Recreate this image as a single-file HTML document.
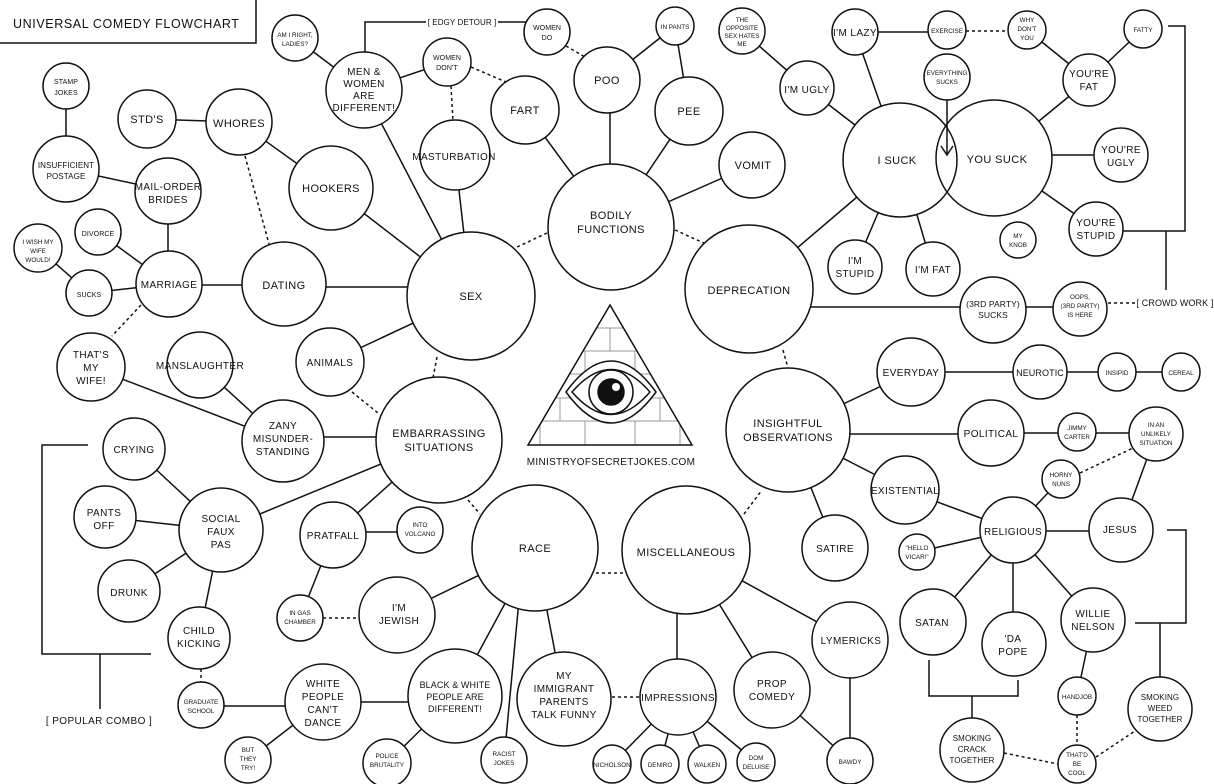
<!DOCTYPE html>
<html><head><meta charset="utf-8"><style>
html,body{margin:0;padding:0;background:#fff;}
svg{display:block;}
text{font-family:"Liberation Sans",sans-serif;fill:#111;text-anchor:middle;letter-spacing:0.4px;}
.b{font-size:11px;}
.m{font-size:10px;}
.s{font-size:7px;letter-spacing:0.1px;}
.x{font-size:6.3px;letter-spacing:0;}
line,path,polyline{stroke:#111;stroke-width:1.5;fill:none;}
.d{stroke-dasharray:3,3;}
circle{stroke:#111;stroke-width:1.5;fill:#fff;}
</style></head><body>
<svg width="1214" height="784" viewBox="0 0 1214 784" xmlns="http://www.w3.org/2000/svg">
<rect x="0" y="0" width="1214" height="784" fill="#fff"/>
<!-- title -->
<path d="M0,43 H256 V0"/>
<text x="13" y="28" style="font-size:12.5px;letter-spacing:0.6px;text-anchor:start">UNIVERSAL COMEDY FLOWCHART</text>

<!-- connectors -->
<g>
<line x1="295" y1="38" x2="364" y2="90"/>
<line x1="364" y1="90" x2="447" y2="62"/>
<line class="d" x1="451" y1="86" x2="453" y2="121"/>
<line class="d" x1="471" y1="67" x2="506" y2="82"/>
<line x1="364" y1="90" x2="471" y2="296"/>
<line x1="455" y1="155" x2="471" y2="296"/>
<line x1="331" y1="188" x2="471" y2="296"/>
<line x1="239" y1="122" x2="331" y2="188"/>
<line x1="147" y1="119" x2="239" y2="122"/>
<line class="d" x1="245" y1="156" x2="269" y2="244"/>
<line x1="66" y1="86" x2="66" y2="169"/>
<line x1="66" y1="169" x2="168" y2="191"/>
<line x1="168" y1="191" x2="168" y2="284"/>
<line x1="98" y1="232" x2="169" y2="284"/>
<line x1="38" y1="248" x2="89" y2="293"/>
<line x1="89" y1="293" x2="169" y2="284"/>
<line x1="169" y1="285" x2="284" y2="285"/>
<line x1="284" y1="287" x2="471" y2="287"/>
<line x1="330" y1="362" x2="471" y2="296"/>
<line class="d" x1="141" y1="305" x2="112" y2="336"/>
<line class="d" x1="437" y1="357" x2="433" y2="378"/>
<line class="d" x1="352" y1="392" x2="378" y2="413"/>
<line x1="200" y1="365" x2="283" y2="441"/>
<line x1="91" y1="367" x2="283" y2="441"/>
<line x1="283" y1="437" x2="439" y2="437"/>
<line x1="439" y1="440" x2="221" y2="530"/>
<line x1="439" y1="440" x2="333" y2="535"/>
<line x1="333" y1="532" x2="420" y2="532"/>
<line x1="333" y1="535" x2="300" y2="618"/>
<line class="d" x1="323" y1="618" x2="359" y2="618"/>
<line x1="134" y1="449" x2="221" y2="530"/>
<line x1="105" y1="517" x2="221" y2="530"/>
<line x1="129" y1="591" x2="221" y2="530"/>
<line x1="221" y1="530" x2="199" y2="638"/>
<line class="d" x1="201" y1="669" x2="201" y2="682"/>
<line x1="201" y1="706" x2="323" y2="706"/>
<line x1="323" y1="702" x2="248" y2="760"/>
<line x1="323" y1="702" x2="455" y2="702"/>
<line x1="455" y1="696" x2="387" y2="763"/>
<line class="d" x1="468" y1="500" x2="480" y2="514"/>
<line x1="535" y1="548" x2="397" y2="615"/>
<line x1="535" y1="548" x2="455" y2="696"/>
<line x1="519" y1="600" x2="504" y2="760"/>
<line x1="535" y1="548" x2="564" y2="699"/>
<line class="d" x1="596" y1="573" x2="626" y2="573"/>
<line class="d" x1="612" y1="697" x2="642" y2="697"/>
<line x1="677" y1="550" x2="677" y2="697"/>
<line x1="686" y1="550" x2="772" y2="690"/>
<line x1="686" y1="550" x2="850" y2="640"/>
<line x1="850" y1="640" x2="850" y2="761"/>
<line x1="772" y1="690" x2="850" y2="761"/>
<line x1="678" y1="697" x2="612" y2="764"/>
<line x1="678" y1="697" x2="660" y2="764"/>
<line x1="678" y1="697" x2="707" y2="764"/>
<line x1="678" y1="697" x2="756" y2="762"/>
<line class="d" x1="744" y1="514" x2="762" y2="490"/>
<line x1="788" y1="430" x2="835" y2="548"/>
<line x1="788" y1="430" x2="911" y2="372"/>
<line x1="788" y1="434" x2="991" y2="434"/>
<line x1="788" y1="430" x2="905" y2="490"/>
<line x1="911" y1="372" x2="1181" y2="372"/>
<line x1="991" y1="433" x2="1156" y2="433"/>
<line class="d" x1="1080" y1="473" x2="1133" y2="448"/>
<line x1="1156" y1="434" x2="1121" y2="530"/>
<line x1="905" y1="490" x2="1013" y2="530"/>
<line x1="917" y1="552" x2="1013" y2="530"/>
<line x1="1013" y1="531" x2="1121" y2="531"/>
<line x1="1013" y1="530" x2="1061" y2="479"/>
<line x1="1013" y1="530" x2="933" y2="622"/>
<line x1="1013" y1="530" x2="1013" y2="644"/>
<line x1="1013" y1="530" x2="1093" y2="620"/>
<line x1="1093" y1="620" x2="1077" y2="696"/>
<line class="d" x1="1077" y1="715" x2="1077" y2="745"/>
<line class="d" x1="1004" y1="753" x2="1058" y2="764"/>
<line class="d" x1="1096" y1="757" x2="1135" y2="731"/>
<polyline points="929,660 929,696 1018,696 1018,680"/>
<line x1="972" y1="696" x2="972" y2="720"/>
<polyline points="1167,530 1186,530 1186,623 1135,623"/>
<line x1="1160" y1="623" x2="1160" y2="678"/>
<!-- top center -->
<polyline points="365,56 365,22 426,22"/>
<text class="s" x="462" y="25" style="font-size:8px">[ EDGY DETOUR ]</text>
<line x1="498" y1="22" x2="530" y2="22"/>
<line class="d" x1="566" y1="46" x2="585" y2="57"/>
<line x1="611" y1="227" x2="525" y2="110"/>
<line x1="610" y1="227" x2="610" y2="80"/>
<line x1="611" y1="227" x2="689" y2="111"/>
<line x1="611" y1="227" x2="752" y2="165"/>
<line x1="607" y1="80" x2="675" y2="26"/>
<line x1="675" y1="26" x2="689" y2="111"/>
<line class="d" x1="547" y1="233" x2="515" y2="248"/>
<line class="d" x1="675" y1="230" x2="706" y2="244"/>
<line class="d" x1="783" y1="350" x2="788" y2="368"/>
<line x1="742" y1="31" x2="807" y2="88"/>
<line x1="807" y1="88" x2="855" y2="125"/>
<line x1="855" y1="32" x2="881" y2="106"/>
<line x1="855" y1="32" x2="947" y2="32"/>
<line class="d" x1="966" y1="31" x2="1008" y2="31"/>
<line x1="1027" y1="30" x2="1089" y2="80"/>
<line x1="1143" y1="29" x2="1089" y2="80"/>
<line x1="1039" y1="121" x2="1089" y2="80"/>
<line x1="1052" y1="155" x2="1121" y2="155"/>
<line x1="1042" y1="191" x2="1096" y2="229"/>
<line x1="857" y1="197" x2="749" y2="289"/>
<line x1="878" y1="213" x2="855" y2="267"/>
<line x1="917" y1="215" x2="933" y2="269"/>
<line x1="749" y1="307" x2="1080" y2="307"/>
<polyline points="1168,26 1185,26 1185,231 1123,231"/>
<line x1="1166" y1="231" x2="1166" y2="290"/>
<line class="d" x1="1108" y1="303" x2="1136" y2="303"/>
<text class="s" x="1175" y="306" style="font-size:9px">[ CROWD WORK ]</text>
<!-- popular combo -->
<polyline points="88,445 42,445 42,654 151,654"/>
<line x1="100" y1="654" x2="100" y2="709"/>
<text x="99" y="724" style="font-size:10px">[ POPULAR COMBO ]</text>
</g>

<!-- big circles -->
<circle cx="471" cy="296" r="64"/><text class="b" x="471" y="300">SEX</text>
<circle cx="611" cy="227" r="63"/><text class="b" x="611" y="219">BODILY</text><text class="b" x="611" y="233">FUNCTIONS</text>
<circle cx="749" cy="289" r="64"/><text class="b" x="749" y="294">DEPRECATION</text>
<circle cx="439" cy="440" r="63"/><text class="b" x="439" y="437">EMBARRASSING</text><text class="b" x="439" y="451">SITUATIONS</text>
<circle cx="535" cy="548" r="63"/><text class="b" x="535" y="552">RACE</text>
<circle cx="686" cy="550" r="64"/><text class="b" x="686" y="556">MISCELLANEOUS</text>
<circle cx="788" cy="430" r="62"/><text class="b" x="788" y="427">INSIGHTFUL</text><text class="b" x="788" y="441">OBSERVATIONS</text>
<circle cx="900" cy="160" r="57" style="fill:none"/><text class="b" x="897" y="164">I SUCK</text>
<circle cx="994" cy="158" r="58" style="fill:none"/><text class="b" x="997" y="163">YOU SUCK</text>
<circle cx="947" cy="77" r="23"/><text class="x" x="947" y="75">EVERYTHING</text><text class="x" x="947" y="84">SUCKS</text>
<line x1="947" y1="100" x2="947" y2="155"/><polyline points="941,146 947,155 953,146"/>

<!-- medium -->
<circle cx="364" cy="90" r="38"/><text class="m" x="364" y="75">MEN &amp;</text><text class="m" x="364" y="87">WOMEN</text><text class="m" x="364" y="99">ARE</text><text class="m" x="364" y="111">DIFFERENT!</text>
<circle cx="455" cy="155" r="35"/><text class="m" x="454" y="160">MASTURBATION</text>
<circle cx="525" cy="110" r="34"/><text class="b" x="525" y="114">FART</text>
<circle cx="607" cy="80" r="33"/><text class="b" x="607" y="84">POO</text>
<circle cx="689" cy="111" r="34"/><text class="b" x="689" y="115">PEE</text>
<circle cx="752" cy="165" r="33"/><text class="b" x="753" y="169">VOMIT</text>
<circle cx="807" cy="88" r="27"/><text class="m" x="807" y="93">I'M UGLY</text>
<circle cx="855" cy="32" r="23"/><text class="m" x="855" y="36">I'M LAZY</text>
<circle cx="855" cy="267" r="27"/><text class="m" x="855" y="264">I'M</text><text class="m" x="855" y="277">STUPID</text>
<circle cx="933" cy="269" r="27"/><text class="m" x="933" y="273">I'M FAT</text>
<circle cx="1089" cy="80" r="26"/><text class="m" x="1089" y="77">YOU'RE</text><text class="m" x="1089" y="90">FAT</text>
<circle cx="1121" cy="155" r="27"/><text class="m" x="1121" y="153">YOU'RE</text><text class="m" x="1121" y="166">UGLY</text>
<circle cx="1096" cy="229" r="27"/><text class="m" x="1096" y="226">YOU'RE</text><text class="m" x="1096" y="239">STUPID</text>
<circle cx="993" cy="310" r="33"/><text class="s" x="993" y="307" style="font-size:8.5px">(3RD PARTY)</text><text class="s" x="993" y="318" style="font-size:8.5px">SUCKS</text>
<circle cx="331" cy="188" r="42"/><text class="b" x="331" y="192">HOOKERS</text>
<circle cx="239" cy="122" r="33"/><text class="b" x="239" y="127">WHORES</text>
<circle cx="147" cy="119" r="29"/><text class="b" x="147" y="123">STD'S</text>
<circle cx="168" cy="191" r="33"/><text class="m" x="168" y="190">MAIL-ORDER</text><text class="m" x="168" y="203">BRIDES</text>
<circle cx="66" cy="169" r="33"/><text class="s" x="66" y="168" style="font-size:8px">INSUFFICIENT</text><text class="s" x="66" y="179" style="font-size:8px">POSTAGE</text>
<circle cx="169" cy="284" r="33"/><text class="m" x="169" y="288">MARRIAGE</text>
<circle cx="284" cy="284" r="42"/><text class="b" x="284" y="289">DATING</text>
<circle cx="91" cy="367" r="34"/><text class="m" x="91" y="358">THAT'S</text><text class="m" x="91" y="371">MY</text><text class="m" x="91" y="384">WIFE!</text>
<circle cx="200" cy="365" r="33"/><text class="m" x="200" y="369">MANSLAUGHTER</text>
<circle cx="330" cy="362" r="34"/><text class="m" x="330" y="366">ANIMALS</text>
<circle cx="283" cy="441" r="41"/><text class="m" x="283" y="429">ZANY</text><text class="m" x="283" y="442">MISUNDER-</text><text class="m" x="283" y="455">STANDING</text>
<circle cx="134" cy="449" r="31"/><text class="m" x="134" y="453">CRYING</text>
<circle cx="105" cy="517" r="31"/><text class="m" x="104" y="516">PANTS</text><text class="m" x="104" y="529">OFF</text>
<circle cx="221" cy="530" r="42"/><text class="m" x="221" y="522">SOCIAL</text><text class="m" x="221" y="535">FAUX</text><text class="m" x="221" y="548">PAS</text>
<circle cx="129" cy="591" r="31"/><text class="m" x="129" y="596">DRUNK</text>
<circle cx="199" cy="638" r="31"/><text class="m" x="199" y="634">CHILD</text><text class="m" x="199" y="647">KICKING</text>
<circle cx="323" cy="702" r="38"/><text class="m" x="323" y="687">WHITE</text><text class="m" x="323" y="700">PEOPLE</text><text class="m" x="323" y="713">CAN'T</text><text class="m" x="323" y="726">DANCE</text>
<circle cx="333" cy="535" r="33"/><text class="m" x="333" y="539">PRATFALL</text>
<circle cx="397" cy="615" r="38"/><text class="m" x="399" y="611">I'M</text><text class="m" x="399" y="624">JEWISH</text>
<circle cx="455" cy="696" r="47"/><text class="s" x="455" y="688" style="font-size:9px">BLACK &amp; WHITE</text><text class="s" x="455" y="700" style="font-size:9px">PEOPLE ARE</text><text class="s" x="455" y="712" style="font-size:9px">DIFFERENT!</text>
<circle cx="564" cy="699" r="47"/><text class="m" x="564" y="679">MY</text><text class="m" x="564" y="692">IMMIGRANT</text><text class="m" x="564" y="705">PARENTS</text><text class="m" x="564" y="718">TALK FUNNY</text>
<circle cx="678" cy="697" r="38"/><text class="m" x="678" y="701">IMPRESSIONS</text>
<circle cx="772" cy="690" r="38"/><text class="m" x="772" y="687">PROP</text><text class="m" x="772" y="700">COMEDY</text>
<circle cx="850" cy="640" r="38"/><text class="m" x="851" y="644">LYMERICKS</text>
<circle cx="835" cy="548" r="33"/><text class="m" x="835" y="552">SATIRE</text>
<circle cx="911" cy="372" r="34"/><text class="m" x="911" y="376">EVERYDAY</text>
<circle cx="1040" cy="372" r="27"/><text class="s" x="1040" y="376" style="font-size:9px">NEUROTIC</text>
<circle cx="991" cy="433" r="33"/><text class="m" x="991" y="437">POLITICAL</text>
<circle cx="905" cy="490" r="34"/><text class="m" x="905" y="494">EXISTENTIAL</text>
<circle cx="1013" cy="530" r="33"/><text class="m" x="1013" y="535">RELIGIOUS</text>
<circle cx="1121" cy="530" r="32"/><text class="m" x="1120" y="533">JESUS</text>
<circle cx="933" cy="622" r="33"/><text class="m" x="932" y="626">SATAN</text>
<circle cx="1014" cy="644" r="32"/><text class="m" x="1013" y="642">'DA</text><text class="m" x="1013" y="655">POPE</text>
<circle cx="1093" cy="620" r="32"/><text class="m" x="1093" y="617">WILLIE</text><text class="m" x="1093" y="630">NELSON</text>
<circle cx="1160" cy="709" r="32"/><text class="s" x="1160" y="700" style="font-size:8px">SMOKING</text><text class="s" x="1160" y="711" style="font-size:8px">WEED</text><text class="s" x="1160" y="722" style="font-size:8px">TOGETHER</text>
<circle cx="972" cy="750" r="32"/><text class="s" x="972" y="741" style="font-size:8px">SMOKING</text><text class="s" x="972" y="752" style="font-size:8px">CRACK</text><text class="s" x="972" y="763" style="font-size:8px">TOGETHER</text>

<!-- small -->
<circle cx="295" cy="38" r="23"/><text class="x" x="295" y="37">AM I RIGHT,</text><text class="x" x="295" y="46">LADIES?</text>
<circle cx="447" cy="62" r="24"/><text class="s" x="447" y="60">WOMEN</text><text class="s" x="447" y="70">DON'T</text>
<circle cx="547" cy="32" r="23"/><text class="s" x="547" y="30">WOMEN</text><text class="s" x="547" y="40">DO</text>
<circle cx="675" cy="26" r="19"/><text class="x" x="675" y="29">IN PANTS</text>
<circle cx="742" cy="31" r="23"/><text class="x" x="742" y="22">THE</text><text class="x" x="742" y="30">OPPOSITE</text><text class="x" x="742" y="38">SEX HATES</text><text class="x" x="742" y="46">ME</text>
<circle cx="947" cy="30" r="19"/><text class="x" x="947" y="33">EXERCISE</text>
<circle cx="1027" cy="30" r="19"/><text class="x" x="1027" y="22">WHY</text><text class="x" x="1027" y="31">DON'T</text><text class="x" x="1027" y="40">YOU</text>
<circle cx="1143" cy="29" r="19"/><text class="x" x="1143" y="32">FATTY</text>
<circle cx="1018" cy="240" r="18"/><text class="x" x="1018" y="238">MY</text><text class="x" x="1018" y="247">KNOB</text>
<circle cx="1080" cy="309" r="27"/><text class="x" x="1080" y="299">OOPS,</text><text class="x" x="1080" y="308">(3RD PARTY)</text><text class="x" x="1080" y="317">IS HERE</text>
<circle cx="66" cy="86" r="23"/><text class="s" x="66" y="84">STAMP</text><text class="s" x="66" y="95">JOKES</text>
<circle cx="98" cy="232" r="23"/><text class="s" x="98" y="236">DIVORCE</text>
<circle cx="38" cy="248" r="24"/><text class="x" x="38" y="244">I WISH MY</text><text class="x" x="38" y="253">WIFE</text><text class="x" x="38" y="262">WOULD!</text>
<circle cx="89" cy="293" r="23"/><text class="s" x="89" y="297">SUCKS</text>
<circle cx="201" cy="705" r="23"/><text class="x" x="201" y="704">GRADUATE</text><text class="x" x="201" y="713">SCHOOL</text>
<circle cx="248" cy="760" r="23"/><text class="x" x="248" y="752">BUT</text><text class="x" x="248" y="761">THEY</text><text class="x" x="248" y="770">TRY!</text>
<circle cx="387" cy="763" r="24"/><text class="x" x="387" y="758">POLICE</text><text class="x" x="387" y="767">BRUTALITY</text>
<circle cx="504" cy="760" r="23"/><text class="x" x="504" y="756">RACIST</text><text class="x" x="504" y="765">JOKES</text>
<circle cx="612" cy="764" r="19"/><text class="x" x="612" y="767">NICHOLSON</text>
<circle cx="660" cy="764" r="19"/><text class="x" x="660" y="767">DENIRO</text>
<circle cx="707" cy="764" r="19"/><text class="x" x="707" y="767">WALKEN</text>
<circle cx="756" cy="762" r="19"/><text class="x" x="756" y="760">DOM</text><text class="x" x="756" y="769">DELUISE</text>
<circle cx="850" cy="761" r="23"/><text class="x" x="850" y="764">BAWDY</text>
<circle cx="420" cy="530" r="23"/><text class="x" x="420" y="527">INTO</text><text class="x" x="420" y="536">VOLCANO</text>
<circle cx="300" cy="618" r="23"/><text class="x" x="300" y="615">IN GAS</text><text class="x" x="300" y="624">CHAMBER</text>
<circle cx="1117" cy="372" r="19"/><text class="x" x="1117" y="375">INSIPID</text>
<circle cx="1181" cy="372" r="19"/><text class="x" x="1181" y="375">CEREAL</text>
<circle cx="1077" cy="432" r="19"/><text class="x" x="1077" y="430">JIMMY</text><text class="x" x="1077" y="439">CARTER</text>
<circle cx="1156" cy="434" r="27"/><text class="x" x="1156" y="427">IN AN</text><text class="x" x="1156" y="436">UNLIKELY</text><text class="x" x="1156" y="445">SITUATION</text>
<circle cx="1061" cy="479" r="19"/><text class="x" x="1061" y="477">HORNY</text><text class="x" x="1061" y="486">NUNS</text>
<circle cx="917" cy="552" r="18"/><text class="x" x="917" y="550">"HELLO</text><text class="x" x="917" y="559">VICAR!"</text>
<circle cx="1077" cy="696" r="19"/><text class="x" x="1077" y="699">HANDJOB</text>
<circle cx="1077" cy="764" r="19"/><text class="x" x="1077" y="757">THAT'D</text><text class="x" x="1077" y="766">BE</text><text class="x" x="1077" y="775">COOL</text>

<!-- pyramid -->
<defs><clipPath id="tri"><polygon points="610,305 528,445 692,445"/></clipPath></defs>
<g clip-path="url(#tri)">
<line x1="520" y1="328" x2="700" y2="328" style="stroke:#999;stroke-width:1"/>
<line x1="520" y1="351" x2="700" y2="351" style="stroke:#999;stroke-width:1"/>
<line x1="520" y1="374" x2="700" y2="374" style="stroke:#999;stroke-width:1"/>
<line x1="520" y1="398" x2="700" y2="398" style="stroke:#999;stroke-width:1"/>
<line x1="520" y1="421" x2="700" y2="421" style="stroke:#999;stroke-width:1"/>
<line x1="610" y1="328" x2="610" y2="351" style="stroke:#999;stroke-width:1"/>
<line x1="585" y1="351" x2="585" y2="374" style="stroke:#999;stroke-width:1"/>
<line x1="635" y1="351" x2="635" y2="374" style="stroke:#999;stroke-width:1"/>
<line x1="560" y1="398" x2="560" y2="421" style="stroke:#999;stroke-width:1"/>
<line x1="660" y1="398" x2="660" y2="421" style="stroke:#999;stroke-width:1"/>
<line x1="585" y1="421" x2="585" y2="445" style="stroke:#999;stroke-width:1"/>
<line x1="635" y1="421" x2="635" y2="445" style="stroke:#999;stroke-width:1"/>
<line x1="540" y1="421" x2="540" y2="445" style="stroke:#999;stroke-width:1"/>
<line x1="680" y1="421" x2="680" y2="445" style="stroke:#999;stroke-width:1"/>
</g>
<polygon points="610,305 528,445 692,445" style="fill:none;stroke:#111;stroke-width:1.5"/>
<path d="M566,392 Q611,330 656,392 Q611,454 566,392 Z" style="fill:#fff"/>
<path d="M572,392 Q611,347 650,392 Q611,437 572,392 Z"/>
<circle cx="611" cy="392" r="22"/>
<circle cx="611" cy="392" r="13" style="fill:#111"/>
<circle cx="616" cy="387" r="4" style="fill:#fff;stroke:none"/>
<text x="611" y="465" style="font-size:10px;letter-spacing:0.3px">MINISTRYOFSECRETJOKES.COM</text>
</svg>
</body></html>
